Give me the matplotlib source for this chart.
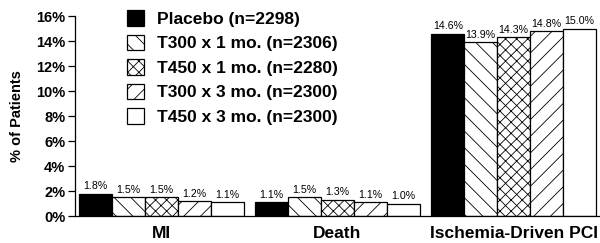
import matplotlib
matplotlib.use('Agg')
import matplotlib.pyplot as plt
import numpy as np

plt.rcParams['font.family'] = ['Liberation Sans', 'DejaVu Sans']
plt.rcParams['hatch.linewidth'] = 0.6

categories = ['MI', 'Death', 'Ischemia-Driven PCI']
groups = ['Placebo (n=2298)', 'T300 x 1 mo. (n=2306)', 'T450 x 1 mo. (n=2280)',
          'T300 x 3 mo. (n=2300)', 'T450 x 3 mo. (n=2300)']
values = [
    [1.8, 1.1, 14.6],
    [1.5, 1.5, 13.9],
    [1.5, 1.3, 14.3],
    [1.2, 1.1, 14.8],
    [1.1, 1.0, 15.0],
]
value_labels = [
    ['1.8%', '1.1%', '14.6%'],
    ['1.5%', '1.5%', '13.9%'],
    ['1.5%', '1.3%', '14.3%'],
    ['1.2%', '1.1%', '14.8%'],
    ['1.1%', '1.0%', '15.0%'],
]
yticks = [0, 2, 4, 6, 8, 10, 12, 14, 16]

fills = ['black', 'white', 'white', 'white', 'white']
hatches = [None, '\\\\', 'xxx', '//', None]

fig = plt.figure(figsize=(6.0, 2.43), dpi=100)
ax = fig.add_axes([0.125, 0.111, 0.875, 0.823])

x = np.arange(len(categories))
w = 0.187
for i in range(len(groups)):
    pos = x + (i - 2) * w
    ax.bar(pos, values[i], w, color=fills[i], edgecolor='black', linewidth=0.9,
           hatch=hatches[i], label=groups[i])
    for px, v, t in zip(pos, values[i], value_labels[i]):
        ax.text(px, v + 0.2, t, ha='center', va='bottom', fontsize=7.7)

ax.set_xlim(-0.49, 2.49)
ax.set_ylim(0, 16)
ax.set_yticks(yticks)
ax.set_yticklabels([f'{t}%' for t in yticks], fontsize=10.5, fontweight='bold')
ax.set_xticks(x)
ax.set_xticklabels(categories, fontsize=12.5, fontweight='bold')
ax.tick_params(axis='x', length=0, pad=7)
ax.tick_params(axis='y', length=5, width=0.9, direction='out', pad=2)
ax.spines['top'].set_visible(False)
ax.spines['right'].set_visible(False)
ax.spines['left'].set_linewidth(0.9)
ax.spines['bottom'].set_linewidth(0.9)
ax.set_ylabel('% of Patients', fontsize=10.5, fontweight='bold', labelpad=9)

leg = ax.legend(loc='upper left', bbox_to_anchor=(0.086, 1.065), frameon=False,
                prop={'weight': 'bold', 'size': 12.5}, handlelength=1.0,
                handleheight=1.0, handletextpad=0.75, labelspacing=0.45,
                borderaxespad=0)

fig.savefig('out.png', dpi=100)
